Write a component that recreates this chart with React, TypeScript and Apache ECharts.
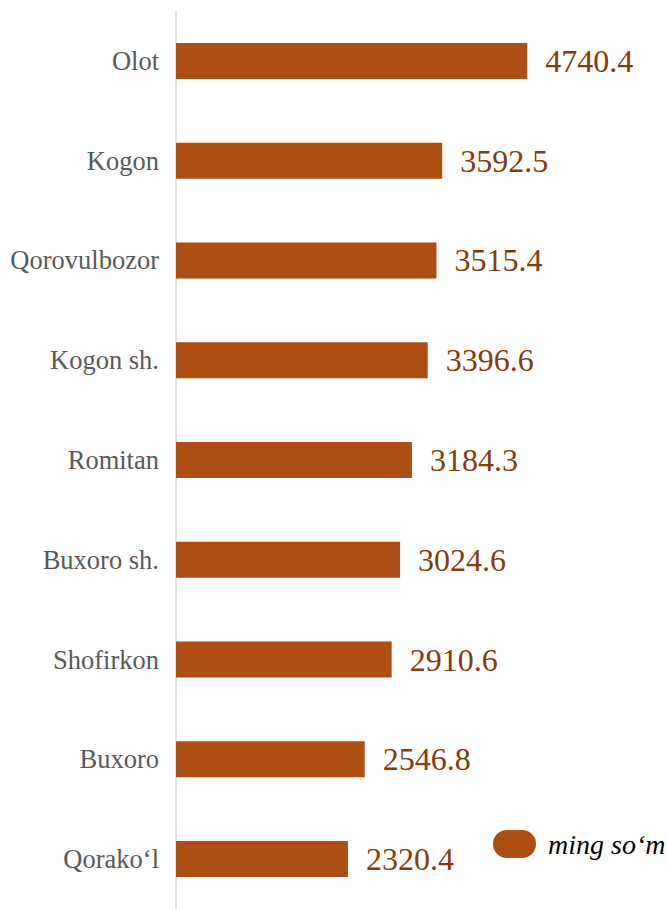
import React, { useEffect, useRef } from "react";
import * as echarts from "echarts";

const categories = [
  "Olot",
  "Kogon",
  "Qorovulbozor",
  "Kogon sh.",
  "Romitan",
  "Buxoro sh.",
  "Shofirkon",
  "Buxoro",
  "Qorako‘l",
];
const values = [4740.4, 3592.5, 3515.4, 3396.6, 3184.3, 3024.6, 2910.6, 2546.8, 2320.4];
const seriesName = "ming so‘m";

const FONT = "Liberation Serif";

export default function App() {
  const ref = useRef<HTMLDivElement>(null);
  useEffect(() => {
    if (!ref.current) return;
    const chart = echarts.init(ref.current, null, { renderer: "svg" });
    chart.setOption({
      animation: false,
      backgroundColor: "#ffffff",
      textStyle: { fontFamily: FONT },
      grid: { left: 176, top: 11, width: 444.6, height: 902, containLabel: false },
      legend: {
        show: true,
        data: [seriesName],
        left: 488,
        top: 825,
        padding: 5,
        icon: "path://M14,0 H29 A14,14 0 0 1 29,28 H14 A14,14 0 0 1 14,0 Z",
        itemWidth: 43,
        itemHeight: 29,
        textStyle: {
          fontFamily: FONT,
          fontStyle: "italic",
          fontSize: 28,
          color: "#000000",
          padding: [0, 0, 0, 7],
        },
      },
      xAxis: {
        type: "value",
        min: 0,
        max: 6000,
        show: false,
      },
      yAxis: {
        type: "category",
        data: categories,
        inverse: true,
        axisLine: { show: true, lineStyle: { color: "#D9D9D9", width: 1.5 } },
        axisTick: { show: false },
        axisLabel: {
          margin: 17,
          fontFamily: FONT,
          fontSize: 26.5,
          color: "#595959",
        },
      },
      series: [
        {
          name: seriesName,
          type: "bar",
          data: values,
          barWidth: 36,
          itemStyle: { color: "#AD4E13" },
          label: {
            show: true,
            position: "right",
            distance: 18,
            fontFamily: FONT,
            fontSize: 32,
            color: "#843C0C",
            formatter: (p: any) => Number(p.value).toFixed(1),
          },
        },
      ],
    });
    return () => chart.dispose();
  }, []);
  return (
    <div
      ref={ref}
      style={{ position: "fixed", left: 0, top: 0, width: 667, height: 909 }}
    />
  );
}
